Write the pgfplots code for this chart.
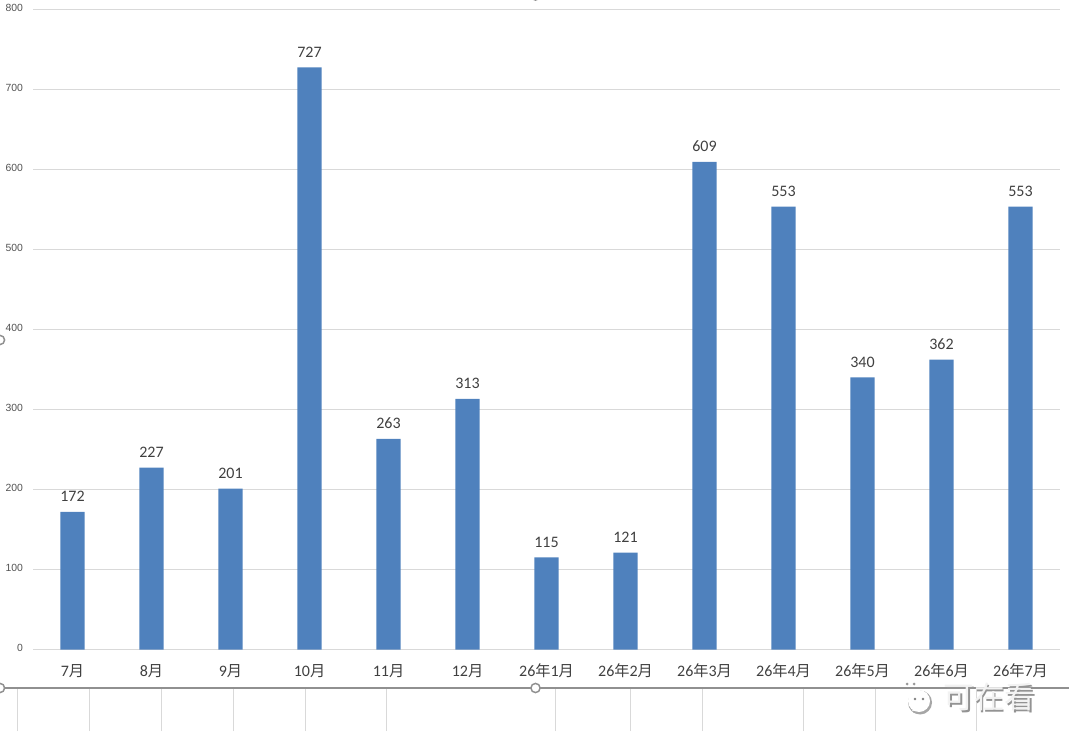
\documentclass[border=0pt]{standalone}
\usepackage{pgfplots}
\pgfplotsset{compat=1.18}
\usepackage{fontspec}
\setmainfont{Carlito}
\newfontfamily\cjk{Noto Sans CJK SC}[Scale=0.95]
\newfontfamily\ysans{Liberation Sans}
\definecolor{barblue}{HTML}{4F81BD}
\definecolor{gridc}{HTML}{D9D9D9}
\definecolor{txt}{HTML}{404040}
\definecolor{ctrl}{HTML}{909090}
\newcommand{\Y}{{\cjk 月}}
\newcommand{\N}{{\cjk 年}}
\begin{document}
\begin{tikzpicture}[x=0.75pt,y=0.75pt]
\path[use as bounding box] (0,0) rectangle (1069,731);
\foreach \xx in {17.5,89,161,233.5,305,386,555,630.5,702.5,803,875,976}{
  \draw[gridc,line width=0.75pt] (\xx,0) -- (\xx,43);
}
\draw[ctrl,line width=1.1pt] (0,43) -- (1069,43);
\foreach \xx/\yy in {0/43,535.5/43,0/391,535.5/735.5}{
  \draw[ctrl,fill=white,line width=1.1pt] (\xx,\yy) circle (4.6);
}
\begin{axis}[
  at={(33*0.75pt,81.5*0.75pt)},anchor=south west,
  scale only axis,width=770.25pt,height=480.4pt,
  ybar,bar width=18.3pt,bar shift=0pt,
  xmin=-0.5,xmax=12.5,ymin=0,ymax=800,
  ytick={0,100,...,800},
  xtick={0,...,12},
  xticklabels={7\Y,8\Y,9\Y,10\Y,11\Y,12\Y,26\N 1\Y,26\N 2\Y,26\N 3\Y,26\N 4\Y,26\N 5\Y,26\N 6\Y,26\N 7\Y},
  ymajorgrids,
  grid style={gridc,line width=0.6pt},
  axis x line*=bottom,axis y line*=left,
  x axis line style={draw=gridc,line width=0.75pt,-},
  y axis line style={draw=none},
  major tick length=0pt,
  /pgf/number format/assume math mode=true,
  yticklabel style={font=\ysans\fontsize{7.8}{9}\selectfont,text=black!68,anchor=east,xshift=-4pt,yshift=1pt},
  xticklabel style={font=\fontsize{12}{14}\selectfont,text=txt,anchor=base,yshift=-20pt},
  nodes near coords,
  every node near coord/.append style={font=\fontsize{12}{14}\selectfont,text=txt,anchor=base,yshift=7.5pt,
    /pgf/number format/assume math mode=true},
  clip=false,
]
\addplot[fill=barblue,draw=none] coordinates {
(0,172)(1,227)(2,201)(3,727)(4,263)(5,313)(6,115)(7,121)(8,609)(9,553)(10,340)(11,362)(12,553)};
\end{axis}
% watermark
\node[text=gray!85,font=\cjk\fontsize{24}{28}\selectfont,anchor=west] at (940.5,32.5) {可在看};
\node[text=white!90!gray,font=\cjk\fontsize{24}{28}\selectfont,anchor=west] at (939,34) {可在看};
\fill[gray!70] (920,28.5) circle (12);
\fill[gray!70] (913,18) -- (918,24) -- (924,22) -- cycle;
\fill[white] (919,30) circle (11);
\fill[white] (912,20) -- (916,25) -- (922,22) -- cycle;
\fill[gray] (915,32) circle (1.4) (923,32) circle (1.4);
\fill[gray!80] (907,47) circle (1.5) (914,47) circle (1.5);
\end{tikzpicture}
\end{document}
